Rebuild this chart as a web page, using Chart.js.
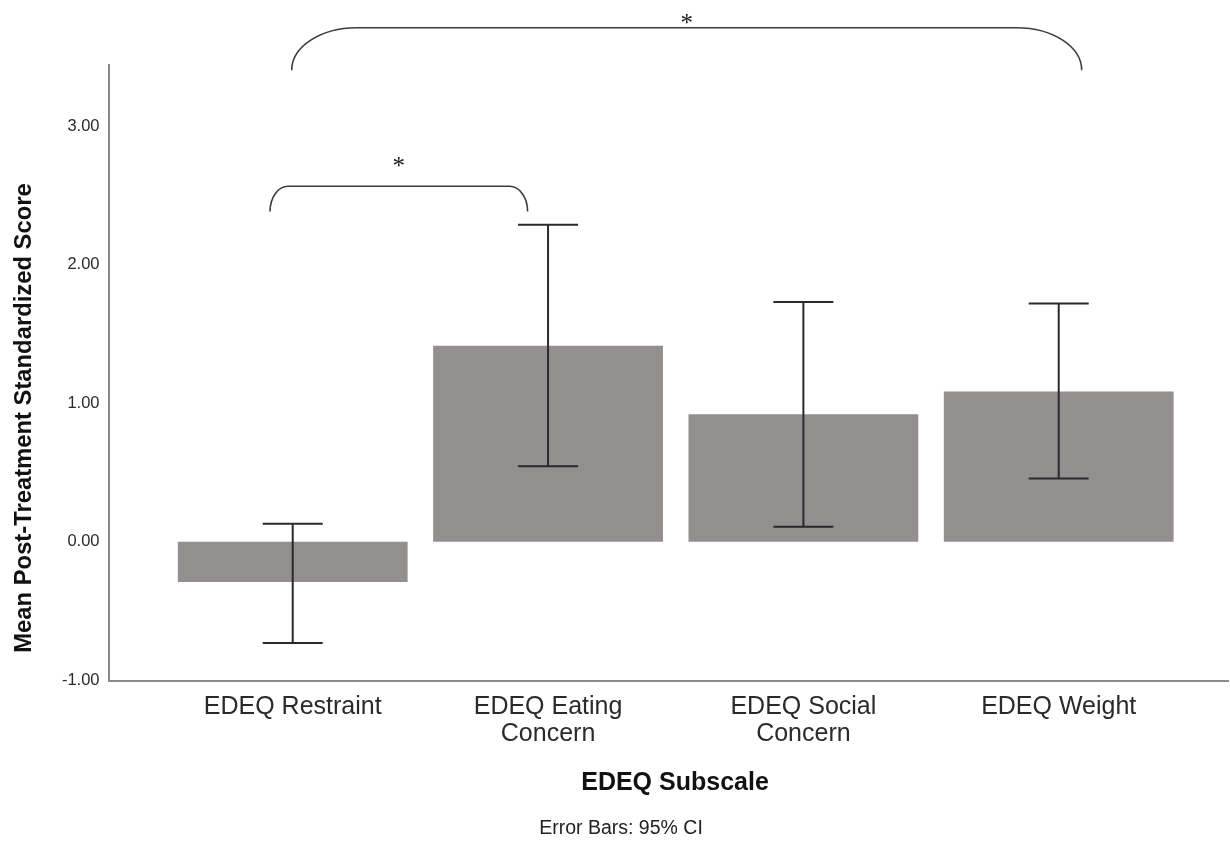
<!DOCTYPE html>
<html>
<head>
<meta charset="utf-8">
<script src="https://cdn.jsdelivr.net/npm/chart.js@4/dist/chart.umd.min.js"></script>
<style>
  html, body { margin: 0; padding: 0; background: #ffffff; }
  #wrap { width: 1230px; height: 841px; position: relative; }
</style>
</head>
<body>
<div id="wrap"><canvas id="chart" width="1230" height="841"></canvas></div>
<script>
// EDEQ subscales (x categories)
const categories = [
  ['EDEQ Restraint'],
  ['EDEQ Eating', 'Concern'],
  ['EDEQ Social', 'Concern'],
  ['EDEQ Weight']
];
// Mean post-treatment standardized score per subscale
const meanScores = [-0.29, 1.415, 0.92, 1.085];
// 95% confidence interval bounds
const ciLower = [-0.73, 0.545, 0.11, 0.457];
const ciUpper = [0.13, 2.287, 1.73, 1.72];
// Y axis tick values
const yTicks = [-1, 0, 1, 2, 3];
// Significance brackets: ends in category units, heights in score units
const bracketFrom = [0.911, 0.996];
const bracketTo = [1.92, 4.09];
const bracketTop = [2.565, 3.709];
const bracketEnd = [2.383, 3.403];
const bracketLabels = ['*', '*'];
const bracketLabelY = [2.70, 3.733];

const SANS = "'Liberation Sans', Arial, sans-serif";

const errorBarPlugin = {
  id: 'errorBars',
  afterDatasetsDraw(chart) {
    const { ctx, scales: { x, y } } = chart;
    ctx.save();
    ctx.strokeStyle = '#2a2a2a';
    ctx.lineWidth = 2;
    ctx.lineCap = 'butt';
    const capHalf = 30;
    meanScores.forEach((_, i) => {
      const px = x.getPixelForValue(i + 1);
      const top = y.getPixelForValue(ciUpper[i]);
      const bot = y.getPixelForValue(ciLower[i]);
      ctx.beginPath();
      ctx.moveTo(px, top); ctx.lineTo(px, bot);
      ctx.moveTo(px - capHalf, top); ctx.lineTo(px + capHalf, top);
      ctx.moveTo(px - capHalf, bot); ctx.lineTo(px + capHalf, bot);
      ctx.stroke();
    });
    ctx.restore();
  }
};

const bracketPlugin = {
  id: 'sigBrackets',
  afterDraw(chart) {
    const { ctx, scales: { x, y } } = chart;
    const cornerRx = [18, 65];
    ctx.save();
    ctx.strokeStyle = '#3c3c3c';
    ctx.lineWidth = 1.6;
    bracketFrom.forEach((from, i) => {
      const xl = x.getPixelForValue(from);
      const xr = x.getPixelForValue(bracketTo[i]);
      const yt = y.getPixelForValue(bracketTop[i]);
      const ye = y.getPixelForValue(bracketEnd[i]);
      const rx = cornerRx[i];
      const ry = ye - yt;
      ctx.beginPath();
      ctx.moveTo(xl, ye);
      ctx.ellipse(xl + rx, ye, rx, ry, 0, Math.PI, 1.5 * Math.PI);
      ctx.lineTo(xr - rx, yt);
      ctx.ellipse(xr - rx, ye, rx, ry, 0, 1.5 * Math.PI, 2 * Math.PI);
      ctx.stroke();

      ctx.fillStyle = '#1a1a1a';
      ctx.font = "25px 'Liberation Serif', 'Times New Roman', serif";
      ctx.textAlign = 'center';
      ctx.textBaseline = 'middle';
      ctx.fillText(bracketLabels[i], (xl + xr) / 2, y.getPixelForValue(bracketLabelY[i]));
    });
    ctx.restore();
  }
};

const titlePlugin = {
  id: 'axisTitles',
  afterDraw(chart) {
    const { ctx } = chart;
    ctx.save();
    ctx.fillStyle = '#111';
    ctx.textAlign = 'center';
    ctx.textBaseline = 'middle';
    // Y axis title
    ctx.save();
    ctx.translate(24, 418);
    ctx.rotate(-Math.PI / 2);
    ctx.font = `bold 23.8px ${SANS}`;
    ctx.fillText('Mean Post-Treatment Standardized Score', 0, 0);
    ctx.restore();
    // X axis title
    ctx.font = `bold 25px ${SANS}`;
    ctx.fillText('EDEQ Subscale', 675, 783);
    // Footnote
    ctx.fillStyle = '#222';
    ctx.font = `19.5px ${SANS}`;
    ctx.fillText('Error Bars: 95% CI', 621, 829);
    ctx.restore();
  }
};

new Chart(document.getElementById('chart'), {
  type: 'bar',
  data: {
    datasets: [{
      data: meanScores.map((v, i) => ({ x: i + 1, y: v })),
      backgroundColor: '#938f8e',
      borderWidth: 0,
      barPercentage: 0.9,
      categoryPercentage: 1
    }]
  },
  options: {
    responsive: false,
    animation: false,
    layout: { padding: { top: 65, right: 2, left: 0, bottom: 0 } },
    plugins: {
      legend: { display: false },
      tooltip: { enabled: false }
    },
    scales: {
      x: {
        type: 'linear',
        offset: false,
        min: 0.2785,
        max: 4.663,
        grid: { display: false, drawTicks: false, offset: false },
        border: { display: true, color: '#8a8a8a', width: 2 },
        afterBuildTicks: (axis) => { axis.ticks = categories.map((_, i) => ({ value: i + 1 })); },
        afterFit: (axis) => { axis.height = 160.5; },
        ticks: {
          autoSkip: false,
          maxRotation: 0,
          padding: 13,
          color: '#2a2a2a',
          font: { family: SANS, size: 25, lineHeight: 1.08 },
          callback: (value) => categories[Math.round(value) - 1]
        }
      },
      y: {
        min: -1,
        max: 3.44,
        grid: { display: false, drawTicks: false },
        border: { display: true, color: '#8a8a8a', width: 2 },
        afterBuildTicks: (axis) => { axis.ticks = yTicks.map(v => ({ value: v })); },
        afterFit: (axis) => { axis.width = 108.5; },
        ticks: {
          padding: 9,
          color: '#2a2a2a',
          font: { family: SANS, size: 16.5 },
          callback: (value) => Number(value).toFixed(2)
        }
      }
    }
  },
  plugins: [errorBarPlugin, bracketPlugin, titlePlugin]
});
</script>
</body>
</html>
